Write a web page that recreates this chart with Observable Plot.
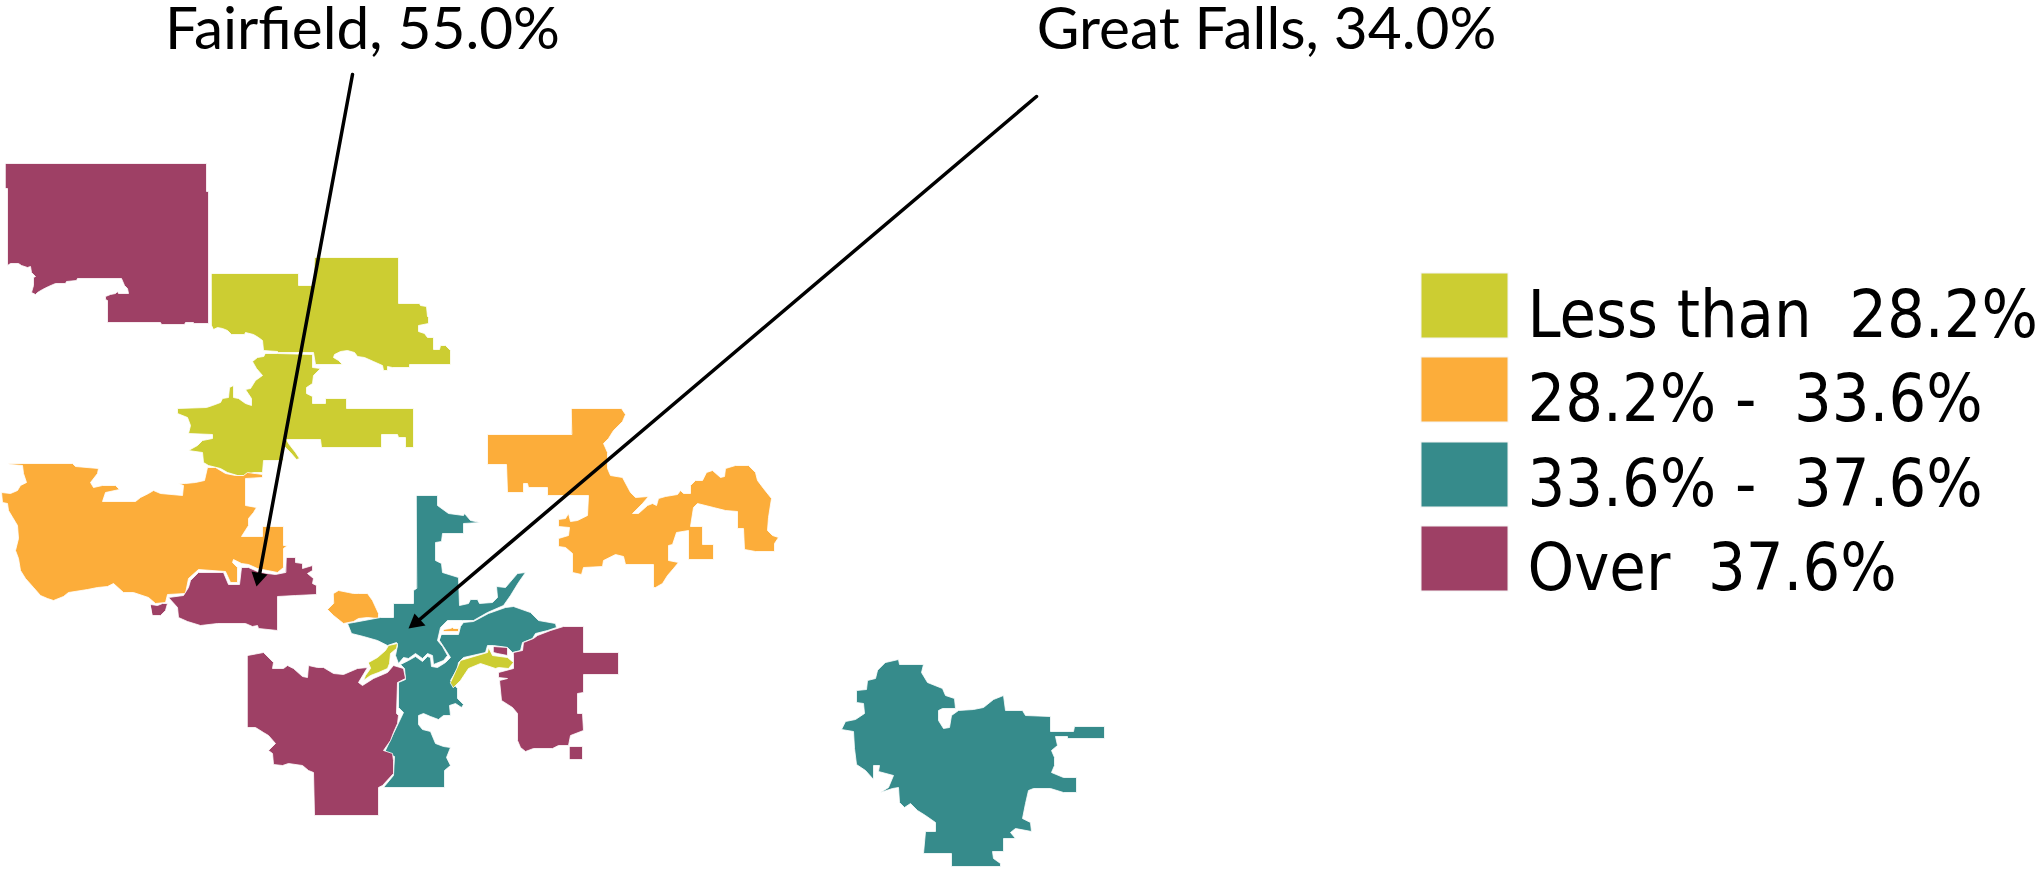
<!DOCTYPE html>
<html>
<head>
<meta charset="utf-8">
<script src="https://cdn.jsdelivr.net/npm/d3@7"></script>
<script src="https://cdn.jsdelivr.net/npm/@observablehq/plot@0.6"></script>
<style>html,body{margin:0;padding:0;background:#fff}svg{display:block}</style>
</head>
<body>
<div id="chart"></div>
<script>
const classLabels = ["Less than  28.2%", "28.2% -  33.6%", "33.6% -  37.6%", "Over  37.6%"];
const classColors = ["#cccd32", "#fcad3a", "#368b8b", "#9e4065"];

const overNorthwest = [[5,163],[206,163],[206,191],[208,191],[208,323],[193,323],[193,322],[185,322],[184,324],[161,324],[160,322],[107,322],[107,300],[105,299],[105,296],[110,294],[115,293],[117,291],[118,293],[128,293],[127,288],[124,285],[121,278],[77,278],[76,280],[66,281],[65,283],[55,283],[48,286],[42,289],[37,292],[35,294],[31,292],[33,285],[33,277],[35,276],[31,272],[30,266],[27,267],[21,265],[18,263],[10,263],[7,265],[7,188],[5,188]];
const lowNorth = [[211,273],[298,273],[298,285],[313,285],[314,257],[398,257],[398,303],[419,303],[420,305],[426,306],[427,316],[428,317],[428,323],[418,325],[418,331],[424,333],[427,337],[433,337],[433,349],[439,349],[440,345],[445,345],[450,350],[450,364],[409,364],[409,367],[392,367],[387,366],[387,370],[383,370],[382,365],[373,361],[364,357],[357,356],[354,352],[347,350],[340,351],[334,354],[333,357],[338,360],[342,364],[315,364],[313,352],[278,352],[277,351],[263,350],[262,340],[258,337],[253,334],[245,332],[244,334],[231,334],[227,330],[222,328],[217,327],[213,329],[211,325]];
const lowMiddle = [[265,353],[277,353],[312,354],[312,367],[320,368],[313,375],[312,383],[306,387],[306,393],[312,396],[312,403],[325,403],[325,398],[346,398],[346,408],[413,408],[413,447],[405,447],[405,437],[398,437],[397,434],[381,434],[381,447],[321,447],[320,439],[286,439],[288,443],[295,452],[299,458],[296,459],[290,452],[283,445],[283,460],[263,460],[262,472],[253,472],[245,475],[237,475],[227,472],[220,468],[208,465],[203,462],[202,452],[188,450],[197,445],[202,440],[212,438],[212,434],[188,433],[190,425],[187,417],[177,413],[177,408],[206,407],[212,405],[220,402],[222,398],[228,397],[229,387],[233,385],[233,397],[238,398],[245,403],[251,405],[251,398],[245,389],[250,388],[255,380],[262,375],[256,368],[252,361],[257,357],[263,356]];
const midWest = [[7,463],[72,463],[75,466],[98,468],[97,473],[90,482],[93,487],[102,485],[115,485],[119,489],[105,492],[102,501],[135,501],[140,497],[148,493],[153,490],[160,493],[182,495],[183,485],[178,483],[185,483],[195,482],[204,480],[207,467],[215,467],[225,473],[235,475],[243,475],[247,472],[262,474],[262,477],[245,478],[245,505],[256,507],[253,512],[248,518],[248,525],[241,536],[262,536],[262,526],[283,526],[283,545],[287,545],[283,548],[283,567],[277,572],[267,570],[257,568],[248,564],[241,563],[233,559],[232,562],[237,567],[237,582],[230,582],[225,571],[198,569],[188,578],[185,593],[167,594],[165,602],[155,603],[148,597],[133,592],[123,592],[113,583],[107,586],[97,587],[87,589],[68,592],[63,596],[53,600],[47,598],[40,595],[33,587],[25,578],[20,570],[18,558],[15,550],[18,538],[17,525],[8,510],[7,503],[2,502],[1,492],[10,493],[17,490],[20,485],[26,482],[23,473],[22,465],[10,464]];
const overFairfield = [[286,557],[295,557],[295,562],[302,563],[302,568],[312,565],[312,570],[307,573],[313,578],[312,583],[316,585],[316,594],[295,595],[277,596],[277,630],[258,628],[257,625],[252,626],[245,623],[217,623],[200,625],[187,621],[178,617],[177,607],[168,597],[183,595],[188,587],[190,580],[198,572],[223,572],[228,584],[239,584],[241,567],[248,567],[257,571],[267,573],[275,574],[285,572]];
const overSmallWest = [[150,604],[157,605],[162,603],[167,603],[165,610],[160,615],[152,615]];
const midSmall = [[333,593],[338,590],[348,592],[353,593],[358,593],[367,593],[372,600],[378,613],[378,618],[367,617],[358,618],[353,621],[343,623],[333,615],[327,609],[333,603]];
const midEast = [[571,408],[621,408],[625,414],[622,421],[613,430],[608,438],[603,443],[607,452],[607,468],[610,475],[622,477],[630,492],[635,497],[648,496],[642,503],[632,513],[638,513],[647,505],[652,503],[656,505],[658,498],[665,496],[677,494],[680,490],[683,493],[690,493],[690,485],[695,480],[702,480],[706,472],[712,470],[720,477],[724,476],[725,468],[735,465],[748,465],[755,472],[757,480],[763,488],[771,498],[768,517],[767,530],[772,535],[778,537],[774,543],[774,551],[755,551],[744,549],[743,528],[737,528],[737,511],[725,510],[713,507],[697,503],[693,507],[690,526],[702,526],[702,544],[713,544],[713,559],[688,559],[688,530],[676,532],[672,544],[668,545],[668,560],[678,562],[673,568],[667,575],[662,583],[655,587],[653,587],[653,564],[625,564],[623,556],[615,554],[603,560],[602,566],[583,567],[581,574],[572,572],[572,553],[565,547],[558,546],[558,538],[568,535],[569,527],[558,526],[558,519],[565,518],[568,513],[570,521],[577,520],[587,515],[588,495],[547,495],[547,487],[528,487],[527,483],[523,483],[523,492],[507,492],[506,464],[487,464],[487,434],[571,434]];
const centralEastSouth = [[441,634],[458,634],[460,626],[463,622],[473,621],[488,613],[505,607],[513,606],[530,612],[538,620],[555,623],[556,627],[547,630],[535,633],[532,638],[522,642],[520,650],[512,652],[507,647],[493,645],[487,645],[485,652],[463,657],[458,662],[457,668],[450,680],[457,688],[457,698],[463,704],[461,707],[455,703],[449,705],[450,715],[443,715],[438,719],[430,716],[423,713],[418,715],[418,724],[422,729],[430,731],[435,743],[443,746],[450,747],[446,757],[450,765],[444,770],[444,787],[383,787],[393,775],[394,756],[384,752],[393,733],[403,712],[398,707],[398,682],[405,679],[404,668],[400,664],[408,660],[415,656],[422,661],[427,656],[430,657],[431,666],[437,667],[445,662],[450,657],[443,646],[439,640]];
const centralNorthWest = [[416,495],[437,495],[437,505],[448,513],[463,515],[464,513],[470,520],[480,522],[463,523],[463,533],[442,533],[441,541],[435,542],[435,560],[441,563],[442,572],[458,577],[459,605],[468,603],[470,599],[477,599],[479,603],[492,602],[497,597],[496,586],[505,587],[517,573],[525,572],[518,582],[510,595],[503,605],[487,612],[473,620],[462,620],[447,620],[440,627],[437,640],[442,646],[447,655],[443,660],[433,664],[432,655],[427,653],[422,658],[415,653],[408,658],[403,657],[398,663],[395,655],[397,645],[396,642],[387,645],[377,640],[363,636],[351,633],[347,623],[353,622],[380,617],[393,617],[393,603],[413,603],[413,590],[416,588]];
const lowRiverWest = [[368,662],[377,657],[385,650],[388,645],[397,643],[396,648],[390,653],[389,663],[387,668],[378,672],[370,675],[363,680],[365,675],[370,668]];
const lowRiverEast = [[450,682],[460,660],[487,652],[488,647],[492,655],[507,657],[513,662],[508,668],[498,667],[495,668],[480,663],[468,668],[460,680],[453,687]];
const overTiny = [[493,646],[507,647],[507,655],[497,653],[493,652]];
const midTiny = [[443,629],[450,628],[452,627],[453,628],[458,628],[458,631],[443,631]];
const overSouthwest = [[247,655],[263,652],[273,662],[272,668],[283,668],[287,665],[293,668],[302,676],[307,677],[308,665],[317,667],[323,667],[333,673],[343,674],[357,668],[367,667],[358,682],[362,685],[373,678],[387,672],[393,665],[403,668],[405,678],[397,682],[396,713],[398,715],[397,723],[393,732],[390,740],[383,750],[392,753],[393,760],[393,773],[382,785],[378,787],[378,815],[314,815],[313,772],[308,770],[302,765],[288,763],[282,765],[273,764],[272,753],[268,750],[275,743],[268,735],[263,732],[255,727],[247,727]];
const overEast = [[513,652],[522,650],[523,642],[533,638],[537,635],[550,630],[563,626],[583,626],[583,652],[618,652],[618,674],[583,674],[583,692],[577,693],[577,713],[582,713],[583,730],[570,735],[568,745],[558,745],[552,748],[533,748],[525,751],[520,747],[517,740],[517,713],[512,707],[501,700],[499,680],[507,678],[498,677],[498,672],[513,668],[513,657]];
const overSquare = [[569,746],[582,746],[582,759],[569,759]];
const centralSoutheast = [[885,662],[898,659],[899,664],[923,664],[921,672],[927,682],[942,688],[945,695],[954,698],[955,708],[942,708],[938,710],[938,720],[943,728],[949,727],[951,715],[958,710],[973,709],[983,707],[993,699],[1003,695],[1005,710],[1022,710],[1025,715],[1050,716],[1050,731],[1073,731],[1074,726],[1104,726],[1104,738],[1067,738],[1067,736],[1055,736],[1057,745],[1051,750],[1054,757],[1054,765],[1051,772],[1063,777],[1076,777],[1076,792],[1063,792],[1050,788],[1033,788],[1028,790],[1025,803],[1022,818],[1030,822],[1031,831],[1015,828],[1010,832],[1015,838],[1003,838],[1003,851],[992,851],[993,858],[1000,863],[1000,866],[951,866],[951,853],[923,853],[925,831],[935,831],[935,822],[925,815],[917,810],[910,803],[904,807],[899,802],[898,787],[892,788],[880,792],[888,787],[893,775],[878,771],[879,765],[873,765],[873,779],[865,770],[856,764],[854,748],[853,731],[841,729],[845,721],[855,719],[864,713],[863,703],[856,702],[856,690],[866,689],[867,680],[875,678],[877,670]];

const regions = [
  [overNorthwest, 3], [lowNorth, 0], [lowMiddle, 0], [midWest, 1], [overFairfield, 3], [overSmallWest, 3],
  [midSmall, 1], [midEast, 1], [centralEastSouth, 2], [centralNorthWest, 2], [lowRiverWest, 0], [lowRiverEast, 0],
  [overTiny, 3], [midTiny, 1], [overSouthwest, 3], [overEast, 3], [overSquare, 3], [centralSoutheast, 2]
];

const calloutLabels = ["Fairfield, 55.0%", "Great Falls, 34.0%"];
const calloutAnchors = [[362, 30], [1266, 30]];
const calloutLines = [[[352, 74], [259, 574]], [[1036, 96], [418, 620]]];
const calloutHeads = [[[256, 586], [251, 571], [267, 574]], [[408, 628], [414, 613], [425, 625]]];

const legendTop = [273, 357, 442, 526];
const legendBottom = [338, 422, 507, 591];

const rows = regions.flatMap(([pts, c], id) => pts.map(([x, y]) => ({x, y, id, cls: classLabels[c]})));
const lineRows = calloutLines.flatMap((pts, id) => pts.map(([x, y]) => ({x, y, id})));
const headRows = calloutHeads.flatMap((pts, id) => pts.map(([x, y]) => ({x, y, id})));

const plot = Plot.plot({
  width: 2038, height: 871, margin: 0,
  x: {domain: [0, 2038], range: [0, 2038], axis: null},
  y: {domain: [0, 871], range: [0, 871], axis: null},
  color: {domain: classLabels, range: classColors},
  marks: [
    Plot.line(rows, {x: "x", y: "y", z: "id", fill: "cls", stroke: "#fff", strokeWidth: 0.8, curve: "linear-closed"}),
    Plot.line(lineRows, {x: "x", y: "y", z: "id", stroke: "#000", strokeWidth: 3.5}),
    Plot.line(headRows, {x: "x", y: "y", z: "id", fill: "#000", stroke: "none", curve: "linear-closed"}),
    Plot.text(calloutLabels, {
      x: (d, i) => calloutAnchors[i][0], y: (d, i) => calloutAnchors[i][1], text: d => d,
      fontFamily: "Lato", fontSize: 58.5, fill: "#000"
    }),
    Plot.rect(classLabels, {
      x1: () => 1421, x2: () => 1508, y1: (d, i) => legendTop[i], y2: (d, i) => legendBottom[i],
      fill: d => d, stroke: "#f4f4f4", strokeWidth: 1
    }),
    Plot.text(classLabels, {
      x: () => 1527, y: (d, i) => (legendTop[i] + legendBottom[i]) / 2 + 10, text: d => d,
      textAnchor: "start", textOverflow: null, fontFamily: "DejaVu Sans Condensed, DejaVu Sans", fontSize: 66, fill: "#000"
    })
  ]
});
document.getElementById("chart").append(plot);
</script>
</body>
</html>
